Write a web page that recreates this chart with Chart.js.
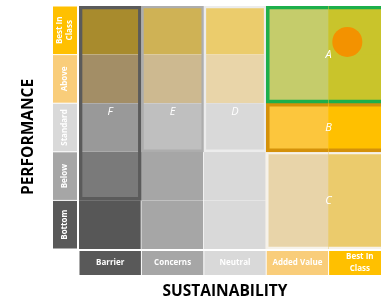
<!DOCTYPE html>
<html>
<head>
<meta charset="utf-8">
<script src="https://cdn.jsdelivr.net/npm/chart.js@4.4.1/dist/chart.umd.min.js"></script>
<style>
  html, body { margin: 0; padding: 0; background: #fff; overflow: hidden; }
  #wrap { width: 381px; height: 299px; overflow: hidden; }
</style>
</head>
<body>
<div id="wrap"><canvas id="chart" width="391" height="299"></canvas></div>
<script>
// matrix axes (rows listed bottom to top)
const sustainability = ["Barrier", "Concerns", "Neutral", "Added Value", ["Best In", "Class"]];
const performance = ["Bottom", "Below", "Standard", "Above", ["Best In", "Class"]];

// zones drawn over the matrix: column span, row span, where the letter sits
const zoneNames = ["A", "B", "C", "D", "E", "F"];
const zoneCols = [[3, 4], [3, 4], [3, 4], [2, 2], [1, 1], [0, 0]];
const zoneRows = [[3, 4], [2, 2], [0, 1], [2, 4], [2, 4], [1, 4]];
const zoneLetterY = [4, 2.5, 1, 2.83, 2.83, 2.83];

// the rated item (orange dot)
const ratingX = [3.8];
const ratingY = [4.26];

// colours
const cellColors = [
	["#575757", "#a6a6a6", "#d9d9d9", "#e8d4a9", "#ebcb6c"],
	["#7a7a7a", "#a6a6a6", "#d9d9d9", "#e8d4a9", "#ebcb6c"],
	["#999999", "#bfbfbf", "#d9d9d9", "#fcc63d", "#ffc000"],
	["#a38e66", "#cdb990", "#e9d5a9", "#c5cc6b", "#c9c42b"],
	["#a88b2d", "#cfb255", "#ebcc6c", "#c5cc6b", "#c9c42b"],
];
const tickColors = ["#595959", "#a6a6a6", "#d9d9d9", "#f9cd7a", "#ffc000"];
const zoneBorders = ["#1daf4b", "#d4910a", "#f6f2ea", "#ececec", "#adadad", "#5b5b5b"];
const zoneWidths = [3, 3, 2, 2, 2, 3];

const cellSets = performance.map((row, r) => ({
	type: "bar",
	data: sustainability.map(() => [r, r + 1]),
	backgroundColor: cellColors[r],
	borderColor: "#ffffff",
	borderWidth: (ctx) => ({ left: 0, right: ctx.dataIndex < 3 ? 1 : 0, top: 0, bottom: 0 }),
	borderSkipped: false,
	grouped: false,
	barPercentage: 1,
	categoryPercentage: 1,
	order: 3,
}));

const zoneSets = zoneNames.map((name, z) => {
	const [c0, c1] = zoneCols[z];
	const [r0, r1] = zoneRows[z];
	const w = zoneWidths[z];
	return {
		type: "bar",
		label: name,
		data: sustainability.map((_, c) => (c >= c0 && c <= c1 ? [r0, r1 + 1] : null)),
		backgroundColor: "rgba(0,0,0,0)",
		borderColor: zoneBorders[z],
		borderWidth: (ctx) => ({
			left: ctx.dataIndex === c0 ? w : 0,
			right: ctx.dataIndex === c1 ? w : 0,
			top: w,
			bottom: w,
		}),
		borderSkipped: false,
		grouped: false,
		barPercentage: 1,
		categoryPercentage: 1,
		order: 2,
	};
});

const ratingSet = {
	type: "scatter",
	xAxisID: "x2",
	data: ratingX.map((v, i) => ({ x: v, y: ratingY[i] })),
	backgroundColor: "#f39200",
	borderWidth: 0,
	pointRadius: 15,
	order: 1,
};

function drawLines(ctx, lab, cx, cy, lh) {
	const lines = Array.isArray(lab) ? lab : [lab];
	lines.forEach((t, i) => {
		ctx.fillText(t, cx, cy + (i - (lines.length - 1) / 2) * lh);
	});
}

const frame = {
	id: "frame",
	afterDatasetsDraw(chart) {
		const { ctx, scales: { x, y } } = chart;
		ctx.save();
		ctx.font = "italic 11px 'Open Sans'";
		ctx.fillStyle = "#ffffff";
		ctx.textAlign = "center";
		ctx.textBaseline = "middle";
		zoneNames.forEach((n, z) => {
			const cx = (x.getPixelForValue(zoneCols[z][0]) + x.getPixelForValue(zoneCols[z][1])) / 2;
			ctx.fillText(n, cx, y.getPixelForValue(zoneLetterY[z]));
		});
		ctx.restore();
	},
	afterDraw(chart) {
		const { ctx, chartArea: a, scales: { x, y } } = chart;
		const half = (x.getPixelForValue(1) - x.getPixelForValue(0)) / 2;
		ctx.save();
		ctx.textAlign = "center";
		ctx.textBaseline = "middle";

		// row tick boxes
		performance.forEach((lab, r) => {
			const top = y.getPixelForValue(r + 1);
			const bot = y.getPixelForValue(r);
			ctx.fillStyle = tickColors[r];
			ctx.fillRect(a.left - 26, top + 0.5, 24, bot - top - 1);
			ctx.save();
			ctx.translate(a.left - 14, (top + bot) / 2);
			ctx.rotate(-Math.PI / 2);
			ctx.fillStyle = "#ffffff";
			ctx.font = "bold 8px 'Open Sans'";
			drawLines(ctx, lab, 0, 0, 10);
			ctx.restore();
		});

		// column tick boxes
		sustainability.forEach((lab, c) => {
			const px = x.getPixelForValue(c);
			ctx.fillStyle = tickColors[c];
			ctx.fillRect(px - half + 0.5, a.bottom + 2, half * 2 - 1, 24);
			ctx.fillStyle = "#ffffff";
			ctx.font = "bold 8px 'Open Sans'";
			drawLines(ctx, lab, px, a.bottom + 14, 12);
		});

		// axis titles
		ctx.fillStyle = "#000000";
		ctx.font = "bold 15.5px 'Open Sans'";
		ctx.fillText("SUSTAINABILITY", 225, 292);
		ctx.translate(29, 137);
		ctx.rotate(-Math.PI / 2);
		ctx.fillText("PERFORMANCE", 0, 0);
		ctx.restore();
	},
};

const chart = new Chart(document.getElementById("chart"), {
	data: {
		labels: sustainability,
		datasets: [...cellSets, ...zoneSets, ratingSet],
	},
	options: {
		responsive: false,
		animation: false,
		layout: { autoPadding: false, padding: { left: 79, top: 6, right: 0, bottom: 50 } },
		plugins: { legend: { display: false }, tooltip: { enabled: false } },
		scales: {
			x: { type: "category", offset: true, display: false },
			x2: { type: "linear", min: -0.5, max: 4.5, display: false },
			y: { type: "linear", min: 0, max: 5, display: false },
		},
	},
	plugins: [frame],
});
</script>
</body>
</html>
